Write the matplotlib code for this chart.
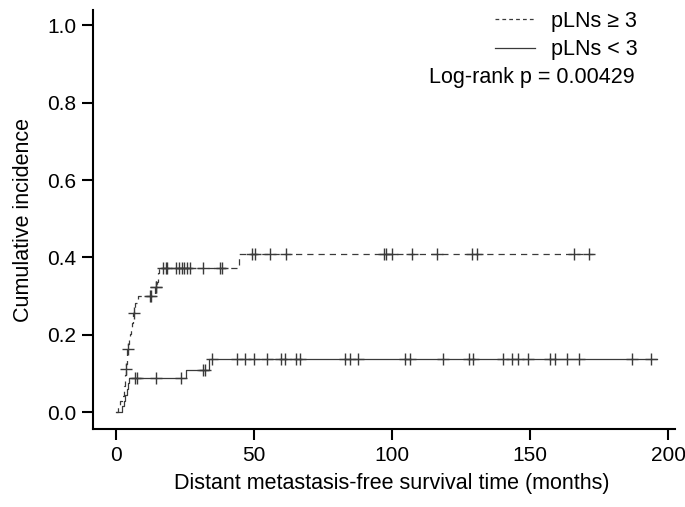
import numpy as np
import matplotlib
matplotlib.use("Agg")
import matplotlib.pyplot as plt
from matplotlib.lines import Line2D

plt.rcParams['font.family'] = ['Liberation Sans', 'DejaVu Sans']

# ---- data: pLNs >= 3 (dashed) ----
high_times = [0, 0.9, 1.7, 2.4, 3.0, 3.2, 3.3, 3.5, 3.7, 3.9, 4.0, 4.2, 4.3, 4.6,
              5.0, 5.3, 5.6, 5.9, 6.2, 6.3, 6.6, 7.2, 7.7, 8.2, 14.2, 14.4, 15.0,
              15.2, 15.5, 15.8, 44.7]
high_ci = [0.0, 0.015, 0.028, 0.041, 0.054, 0.068, 0.082, 0.096, 0.111, 0.125,
           0.140, 0.150, 0.163, 0.176, 0.190, 0.203, 0.217, 0.230, 0.243, 0.256,
           0.270, 0.282, 0.291, 0.300, 0.312, 0.323, 0.336, 0.349, 0.360, 0.372,
           0.410]
high_end = 172.8
high_censor = [3.8, 4.4, 6.5, 12.6, 12.9, 14.5, 14.8, 17.0, 18.2, 18.6, 22.0, 22.9,
               23.9, 24.9, 25.8, 27.0, 31.6, 37.7, 38.6, 49.2, 50.4, 56.0, 61.8, 97.1,
               98.0, 100.1, 107.3, 116.3, 128.9, 130.7, 166.0, 171.4]

# ---- data: pLNs < 3 (solid) ----
low_times = [0, 2.4, 3.0, 3.5, 4.0, 4.4, 4.9, 25.6, 33.8]
low_ci = [0.0, 0.015, 0.030, 0.045, 0.060, 0.075, 0.088, 0.110, 0.137]
low_end = 195.9
low_censor = [7.0, 7.9, 14.8, 23.8, 31.7, 32.2, 35.0, 44.0, 46.7, 50.0, 54.8, 60.0,
              61.2, 65.2, 66.7, 83.0, 84.8, 87.8, 104.7, 106.5, 118.6, 128.0, 129.2,
              140.3, 143.4, 145.8, 149.4, 157.2, 159.1, 163.3, 167.8, 186.8, 193.7]

labels = ["pLNs \u2265 3", "pLNs < 3"]
pvalue_text = "Log-rank p = 0.00429"
xticks = [0, 50, 100, 150, 200]
yticks = [0.0, 0.2, 0.4, 0.6, 0.8, 1.0]

line_color = "#3a3a3a"
FS = 15.5

fig = plt.figure(figsize=(6.85, 5.07), dpi=100)
ax = fig.add_axes([0.1353, 0.154, 0.8501, 0.826])


def step_value(times, vals, t):
    idx = np.searchsorted(np.asarray(times), np.asarray(t), side='right') - 1
    return np.asarray(vals)[idx]


def draw_curve(times, vals, end, censor, ls):
    tx = list(times) + [end]
    vy = list(vals) + [vals[-1]]
    if ls == 'dashed':
        ax.plot(tx, vy, drawstyle='steps-post', color=line_color, lw=0.9,
                dashes=[5, 4])
    else:
        ax.plot(tx, vy, drawstyle='steps-post', color=line_color, lw=0.9)
    cy = step_value(times, vals, censor)
    ax.plot(censor, cy, linestyle='none', marker='+', markersize=9,
            markeredgewidth=1.0, color=line_color)


draw_curve(high_times, high_ci, high_end, high_censor, 'dashed')
draw_curve(low_times, low_ci, low_end, low_censor, 'solid')

xmin, xmax = -8.3, 202.5
ax.set_xlim(xmin, xmax)
ax.set_ylim(-0.043, 1.039)
ax.set_xticks(xticks)
ax.set_xticklabels([str(v) for v in xticks])
ax.set_yticks(yticks)
ax.set_yticklabels([f"{v:.1f}" for v in yticks])

for s in ['top', 'right']:
    ax.spines[s].set_visible(False)
for s in ['left', 'bottom']:
    ax.spines[s].set_linewidth(1.5)
    ax.spines[s].set_color('black')

ax.tick_params(axis='both', direction='out', length=8, width=1.5,
               labelsize=15, colors='black', pad=4)
ax.set_xlabel("Distant metastasis-free survival time (months)", fontsize=FS)
# centre the x label under the tick range (0..200)
label_center = (np.mean([xticks[0], xticks[-1]]) - xmin) / (xmax - xmin)
ax.xaxis.set_label_coords(label_center, -0.106)
ax.set_ylabel("Cumulative incidence", fontsize=FS, labelpad=9)

handles = [Line2D([], [], color=line_color, lw=0.9, dashes=[3, 2.5]),
           Line2D([], [], color=line_color, lw=0.9)]
leg = ax.legend(handles, labels, loc='upper right', bbox_to_anchor=(0.935, 0.999),
                frameon=False, fontsize=FS, handlelength=1.9,
                handletextpad=0.7, labelspacing=0.35, borderpad=0, borderaxespad=0)
ax.text(0.931, 0.840, pvalue_text, transform=ax.transAxes, ha='right',
        va='center', fontsize=FS)

fig.savefig("out.png", dpi=100)
